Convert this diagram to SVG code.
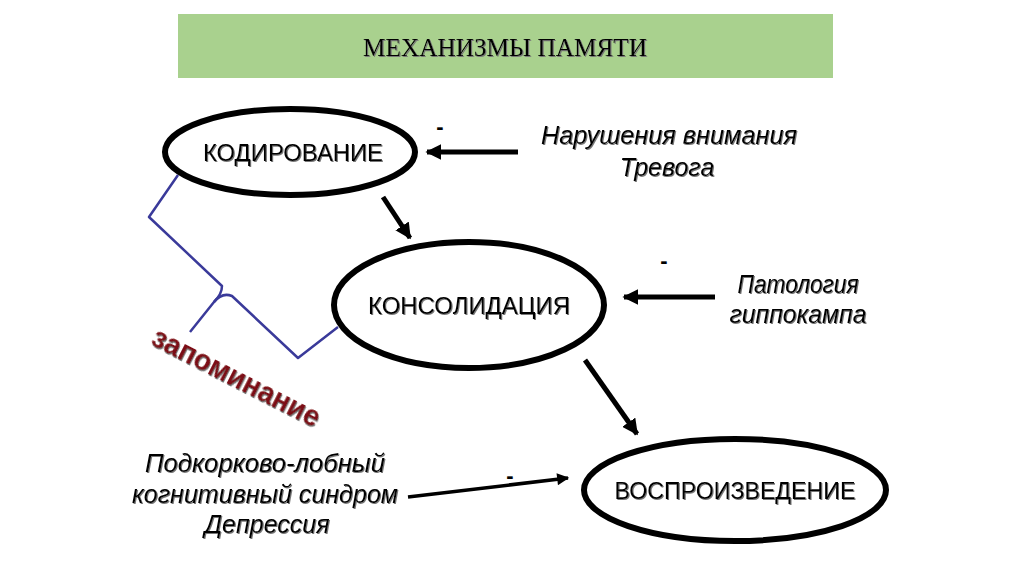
<svg xmlns="http://www.w3.org/2000/svg" width="1024" height="574" viewBox="0 0 1024 574">
<style>
.node{fill:#fff;stroke:#000;stroke-width:6}
.nt{font-family:"Liberation Sans",Arial,sans-serif;font-size:24px;fill:#000;text-anchor:middle}
.it{font-family:"Liberation Sans",Arial,sans-serif;font-size:25px;font-style:italic;fill:#000;text-anchor:middle}
.conn{stroke:#000;fill:none}
.minus{font-family:"Liberation Sans",Arial,sans-serif;font-size:22px;font-weight:bold;fill:#000;text-anchor:middle}
</style>
<defs>
<filter id="sh" x="-10%" y="-10%" width="120%" height="130%"><feDropShadow dx="1" dy="1" stdDeviation="0.6" flood-color="#777"/></filter>
<marker id="ah" viewBox="0 0 10 10" refX="9" refY="5" markerWidth="16" markerHeight="16" markerUnits="userSpaceOnUse" orient="auto"><path d="M0,0 L10,5 L0,10 z" fill="#000"/></marker>
<marker id="ahs" viewBox="0 0 10 10" refX="9" refY="5" markerWidth="14" markerHeight="12" markerUnits="userSpaceOnUse" orient="auto"><path d="M0,0 L10,5 L0,10 z" fill="#000"/></marker>
</defs>
<rect width="1024" height="574" fill="#fff"/>
<g id="title">
<rect x="178" y="14" width="655" height="64" fill="#a9d18e"/>
<text x="505" y="56" font-family="Liberation Serif,Times New Roman,serif" font-size="25" text-anchor="middle" textLength="284" lengthAdjust="spacingAndGlyphs" filter="url(#sh)">МЕХАНИЗМЫ ПАМЯТИ</text>
</g>
<g id="connectors">
<line class="conn" x1="518" y1="152" x2="427" y2="152" stroke-width="5" marker-end="url(#ah)"/>
<line class="conn" x1="383" y1="197" x2="410" y2="238" stroke-width="5" marker-end="url(#ah)"/>
<line class="conn" x1="715" y1="297" x2="624" y2="297" stroke-width="5" marker-end="url(#ah)"/>
<line class="conn" x1="585" y1="360" x2="637" y2="434" stroke-width="5" marker-end="url(#ah)"/>
<line class="conn" x1="408" y1="497" x2="568" y2="478" stroke-width="3.5" marker-end="url(#ahs)"/>
<text class="minus" x="440" y="134">-</text>
<text class="minus" x="664" y="268">-</text>
<text class="minus" x="510" y="483">-</text>
</g>
<g id="bracket" fill="none" stroke="#3a3a9a" stroke-width="2.5" stroke-linejoin="round">
<path d="M178,175 L149,217 L222,286 Q222,294 214,302 L190,332"/>
<path d="M214,302 Q222,292 232,296 L298,358 L338,327"/>
</g>
<g id="n-kod">
<ellipse class="node" cx="290" cy="152" rx="125" ry="43"/>
<text class="nt" x="293" y="161" textLength="180" lengthAdjust="spacingAndGlyphs" filter="url(#sh)">КОДИРОВАНИЕ</text>
</g>
<g id="n-kons">
<ellipse class="node" cx="469" cy="305" rx="135" ry="63"/>
<text class="nt" x="469" y="314" textLength="202" lengthAdjust="spacingAndGlyphs" filter="url(#sh)">КОНСОЛИДАЦИЯ</text>
</g>
<g id="n-vospr">
<ellipse class="node" cx="735" cy="490" rx="151" ry="51"/>
<text class="nt" x="735" y="499" textLength="241" lengthAdjust="spacingAndGlyphs" filter="url(#sh)">ВОСПРОИЗВЕДЕНИЕ</text>
</g>
<g id="t-vnim" filter="url(#sh)">
<text class="it" x="669" y="144" textLength="256" lengthAdjust="spacingAndGlyphs">Нарушения внимания</text>
<text class="it" x="667" y="176">Тревога</text>
</g>
<g id="t-hipp" filter="url(#sh)">
<text class="it" x="798" y="293" textLength="121" lengthAdjust="spacingAndGlyphs">Патология</text>
<text class="it" x="798" y="323" textLength="137" lengthAdjust="spacingAndGlyphs">гиппокампа</text>
</g>
<g id="t-podk" filter="url(#sh)">
<text class="it" x="265" y="472" textLength="240" lengthAdjust="spacingAndGlyphs">Подкорково-лобный</text>
<text class="it" x="265" y="503" textLength="266" lengthAdjust="spacingAndGlyphs">когнитивный синдром</text>
<text class="it" x="267" y="533" textLength="125" lengthAdjust="spacingAndGlyphs">Депрессия</text>
</g>
<g id="t-zap">
<text x="0" y="0" transform="translate(232,386) rotate(27)" font-family="Liberation Sans,Arial,sans-serif" font-size="29" font-weight="bold" fill="#7b0f12" text-anchor="middle" textLength="185" lengthAdjust="spacingAndGlyphs" filter="url(#sh)">запоминание</text>
</g>
</svg>
